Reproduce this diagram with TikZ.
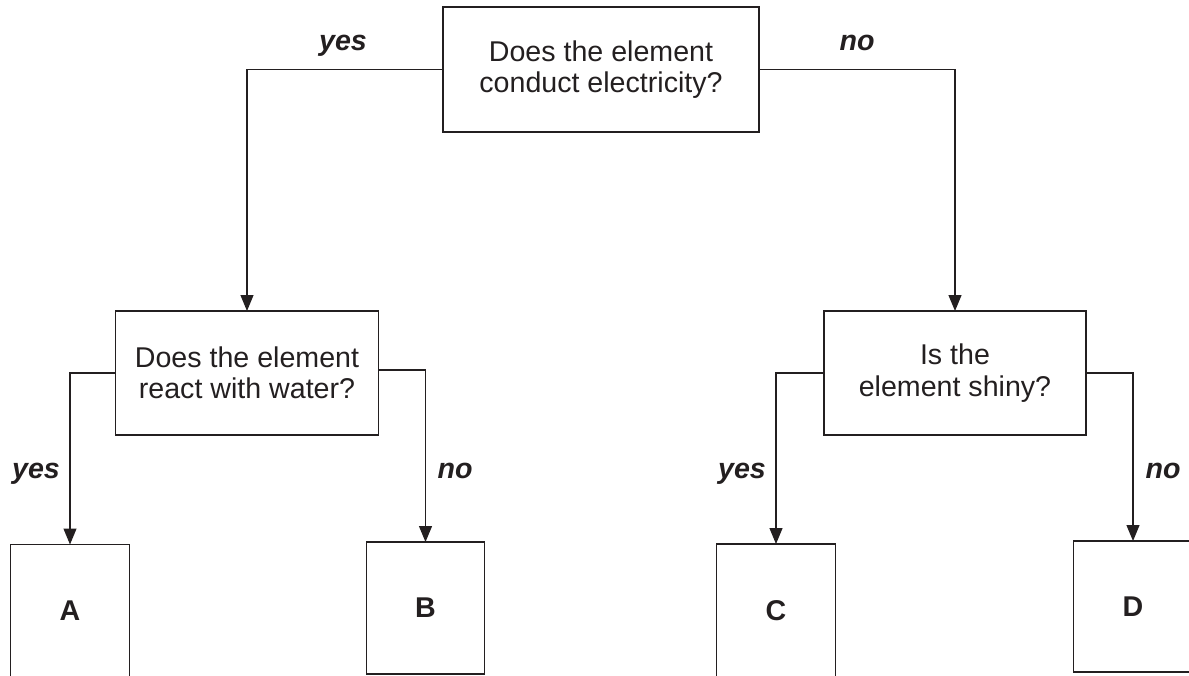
\documentclass[tikz,border=0pt]{standalone}
\usepackage{fontspec}
\setmainfont{Liberation Sans}
\usetikzlibrary{arrows.meta}
\definecolor{ink}{HTML}{231F20}
\tikzset{
  qbox/.style={draw=ink, line width=0.6pt, inner sep=0pt, outer sep=0pt, align=center,
    text=ink, font=\fontsize{14.3}{15.6}\selectfont},
  leaf/.style={draw=ink, line width=0.6pt, inner sep=0pt, outer sep=0pt,
    minimum width=59.3pt, text=ink, font=\fontsize{14.3}{15}\selectfont\bfseries},
  lbl/.style={anchor=base, inner sep=0pt, text=ink, font=\fontsize{14.3}{15}\selectfont\bfseries\itshape},
  conn/.style={draw=ink, line width=0.6pt, -{Triangle[length=8pt,width=6.5pt]}}
}
\begin{document}
\begin{tikzpicture}[x=0.5pt, y=-0.5pt]
\useasboundingbox (0,0) rectangle (1189,675);
\clip (0,0) rectangle (1189,675);
% question boxes
\node[qbox, minimum width=158pt, minimum height=62.5pt] (top) at (601,69.5)
  {Does the element\\conduct electricity?};
\node[qbox, minimum width=131.5pt, minimum height=62pt] (L) at (247,373)
  {Does the element\\react with water?};
\node[qbox, minimum width=131pt, minimum height=62pt] (R) at (955,373)
  {Is the\\element shiny?};
% answer boxes
\node[leaf, minimum height=66.5pt] (A) at (70,611) {A};
\node[leaf, minimum height=66pt] (B) at (425.5,608) {B};
\node[leaf, minimum height=66.5pt] (C) at (776,610.5) {C};
\node[leaf, minimum height=65.5pt] (D) at (1133,606.5) {D};
% connectors
\draw[conn] (top.west) -| (L.north);
\draw[conn] (top.east) -| (R.north);
\draw[conn] (L.west) -| (A.north);
\draw[conn] ([yshift=1.5pt]L.east) -| (B.north);
\draw[conn] (R.west) -| (C.north);
\draw[conn] (R.east) -| (D.north);
% labels
\node[lbl] (ytop) at (343,50) {yes};
\node[lbl] (ntop) at (857,50) {no};
\node[lbl] (yL) at (36,478) {yes};
\node[lbl] (nL) at (455,478) {no};
\node[lbl] (yR) at (742,478) {yes};
\node[lbl] (nR) at (1163,478) {no};
\end{tikzpicture}
\end{document}
